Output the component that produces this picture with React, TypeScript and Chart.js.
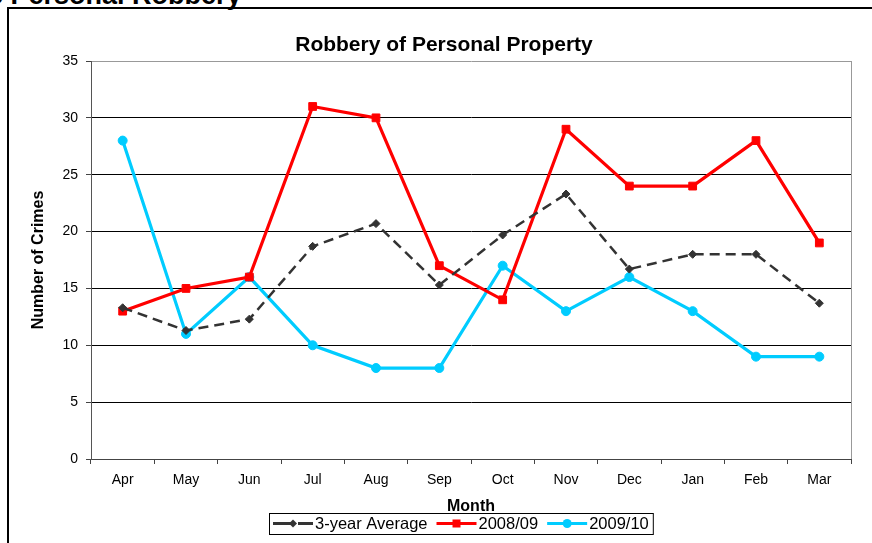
import React, { useEffect, useRef } from "react";
import { Chart, registerables } from "chart.js";

Chart.register(...registerables);

const months = ["Apr", "May", "Jun", "Jul", "Aug", "Sep", "Oct", "Nov", "Dec", "Jan", "Feb", "Mar"];
const avg3Year = [13.3, 11.3, 12.3, 18.7, 20.7, 15.3, 19.7, 23.3, 16.7, 18, 18, 13.7];
const year0809 = [13, 15, 16, 31, 30, 17, 14, 29, 24, 24, 28, 19];
const year0910 = [28, 11, 16, 10, 8, 8, 17, 13, 16, 13, 9, 9];
const seriesNames = ["3-year Average", "2008/09", "2009/10"];
const chartTitle = "Robbery of Personal Property";
const xTitle = "Month";
const yTitle = "Number of Crimes";
const yMin = 0;
const yMax = 35;
const yStep = 5;

const FONT = "'Liberation Sans', Arial, Helvetica, sans-serif";
const AVG_COLOR = "#333333";
const RED = "#ff0000";
const BLUE = "#00ccff";

const titlePlugin = {
  id: "customTitle",
  afterDraw(chart: any) {
    const ctx = chart.ctx;
    ctx.save();
    ctx.font = `bold 21px ${FONT}`;
    ctx.fillStyle = "#000";
    ctx.textAlign = "center";
    ctx.textBaseline = "alphabetic";
    ctx.fillText(chartTitle, chart.width / 2, 42);
    ctx.restore();
  },
};

const framePlugin = {
  id: "plotFrame",
  beforeDatasetsDraw(chart: any) {
    const { ctx, chartArea } = chart;
    ctx.save();
    ctx.strokeStyle = "#999999";
    ctx.lineWidth = 1;
    ctx.beginPath();
    ctx.moveTo(chartArea.right + 0.5, chartArea.top);
    ctx.lineTo(chartArea.right + 0.5, chartArea.bottom);
    ctx.stroke();
    ctx.restore();
  },
};

function drawMarker(ctx: CanvasRenderingContext2D, style: string, x: number, y: number, color: string) {
  ctx.fillStyle = color;
  ctx.beginPath();
  if (style === "diamond") {
    ctx.moveTo(x, y - 4);
    ctx.lineTo(x + 4, y);
    ctx.lineTo(x, y + 4);
    ctx.lineTo(x - 4, y);
    ctx.closePath();
  } else if (style === "square") {
    ctx.rect(x - 4, y - 4, 8, 8);
  } else {
    ctx.arc(x, y, 4.5, 0, Math.PI * 2);
  }
  ctx.fill();
}

const legendPlugin = {
  id: "boxLegend",
  afterDraw(chart: any) {
    const { ctx, chartArea } = chart;
    const items = [
      { text: seriesNames[0], color: AVG_COLOR, marker: "diamond", dash: [20, 5] },
      { text: seriesNames[1], color: RED, marker: "square", dash: [] },
      { text: seriesNames[2], color: BLUE, marker: "circle", dash: [] },
    ];
    ctx.save();
    ctx.font = `16.5px ${FONT}`;
    const sample = 40;
    const gapAfterSample = 2;
    const gapBetween = 9;
    const pad = 4;
    const widths = items.map((it) => ctx.measureText(it.text).width);
    let total = pad * 2;
    widths.forEach((w, i) => {
      total += sample + gapAfterSample + w + (i < items.length - 1 ? gapBetween : 0);
    });
    const cx = (chartArea.left + chartArea.right) / 2 - 10;
    const left = Math.round(cx - total / 2);
    const top = 504;
    const h = 21;
    const cy = top + h / 2;
    ctx.fillStyle = "#fff";
    ctx.fillRect(left, top, total, h);
    ctx.strokeStyle = "#000";
    ctx.lineWidth = 1;
    ctx.strokeRect(left + 0.5, top + 0.5, total, h);
    let x = left + pad;
    items.forEach((it, i) => {
      ctx.strokeStyle = it.color;
      ctx.lineWidth = 3;
      ctx.setLineDash(it.dash);
      ctx.beginPath();
      ctx.moveTo(x, cy);
      ctx.lineTo(x + sample, cy);
      ctx.stroke();
      ctx.setLineDash([]);
      drawMarker(ctx, it.marker, x + sample / 2, cy, it.color);
      x += sample + gapAfterSample;
      ctx.fillStyle = "#000";
      ctx.textAlign = "left";
      ctx.textBaseline = "middle";
      ctx.fillText(it.text, x, cy + 1);
      x += widths[i] + gapBetween;
    });
    ctx.restore();
  },
};

export default function App() {
  const canvasRef = useRef<HTMLCanvasElement | null>(null);

  useEffect(() => {
    const canvas = canvasRef.current;
    if (!canvas) return;
    const chart = new Chart(canvas, {
      type: "line",
      data: {
        labels: months,
        datasets: [
          {
            label: seriesNames[0],
            data: avg3Year,
            borderColor: AVG_COLOR,
            backgroundColor: AVG_COLOR,
            borderWidth: 2.5,
            borderDash: [10, 6],
            pointStyle: "rectRot",
            pointRadius: 4,
            pointBorderWidth: 1,
            pointBackgroundColor: AVG_COLOR,
            pointBorderColor: AVG_COLOR,
            tension: 0,
            fill: false,
          },
          {
            label: seriesNames[1],
            data: year0809,
            borderColor: RED,
            backgroundColor: RED,
            borderWidth: 3.2,
            pointStyle: "rect",
            pointRadius: 5.5,
            pointBorderWidth: 1,
            pointBackgroundColor: RED,
            pointBorderColor: RED,
            tension: 0,
            fill: false,
          },
          {
            label: seriesNames[2],
            data: year0910,
            borderColor: BLUE,
            backgroundColor: BLUE,
            borderWidth: 3.2,
            pointStyle: "circle",
            pointRadius: 4.5,
            pointBorderWidth: 1,
            pointBackgroundColor: BLUE,
            pointBorderColor: BLUE,
            tension: 0,
            fill: false,
          },
        ],
      },
      options: {
        animation: false,
        responsive: false,
        maintainAspectRatio: false,
        devicePixelRatio: 1,
        layout: { padding: { top: 52, right: 28, bottom: 27, left: 0 } },
        plugins: {
          legend: { display: false },
          title: { display: false },
          tooltip: { enabled: false },
        },
        scales: {
          x: {
            type: "category",
            offset: true,
            afterFit: (s: any) => {
              s.height = 57;
            },
            grid: {
              display: true,
              offset: true,
              drawOnChartArea: false,
              drawTicks: true,
              tickLength: 5,
              color: "#444444",
              tickColor: "#444444",
            },
            border: { display: true, color: "#444444", width: 1 },
            ticks: {
              color: "#000",
              font: { family: FONT, size: 14 },
              padding: 8,
              maxRotation: 0,
              autoSkip: false,
            },
            title: {
              display: true,
              text: xTitle,
              color: "#000",
              font: { family: FONT, size: 16, weight: "bold" },
              padding: { top: 0, bottom: 0 },
            },
          },
          y: {
            min: yMin,
            max: yMax,
            afterFit: (s: any) => {
              s.width = 82;
            },
            grid: {
              display: true,
              color: (c: any) => (c.tick && c.tick.value === yMax ? "#999999" : "#000000"),
              lineWidth: 1,
              drawTicks: true,
              tickLength: 5,
              tickColor: "#444444",
            },
            border: { display: true, color: "#555555", width: 1 },
            ticks: {
              stepSize: yStep,
              color: "#000",
              font: { family: FONT, size: 14 },
              padding: 8,
            },
            title: {
              display: true,
              text: yTitle,
              color: "#000",
              font: { family: FONT, size: 16, weight: "bold" },
              padding: { top: 20, bottom: 0 },
            },
          },
        },
      },
      plugins: [titlePlugin, framePlugin, legendPlugin],
    });
    return () => chart.destroy();
  }, []);

  return (
    <div
      style={{
        position: "fixed",
        left: 0,
        top: 0,
        width: 872,
        height: 543,
        overflow: "hidden",
        background: "#fff",
      }}
    >
      <div
        style={{
          position: "absolute",
          left: -12,
          top: -18,
          whiteSpace: "nowrap",
          font: `bold 27px ${FONT}`,
          lineHeight: "27px",
          color: "#000",
        }}
      >
        e Personal Robbery
      </div>
      <div
        style={{
          position: "absolute",
          left: 7,
          top: 7,
          width: 900,
          height: 600,
          border: "2px solid #000",
          boxSizing: "border-box",
        }}
      />
      <canvas
        ref={canvasRef}
        width={870}
        height={534}
        style={{ position: "absolute", left: 9, top: 9, width: 870, height: 534 }}
      />
    </div>
  );
}
